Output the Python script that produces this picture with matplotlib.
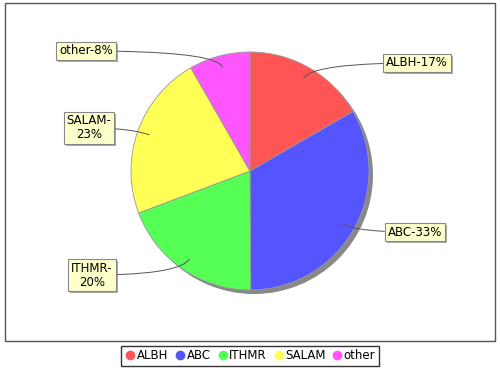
import numpy as np
import matplotlib
matplotlib.use("Agg")
import matplotlib.pyplot as plt
from matplotlib.patches import Circle, Rectangle
from matplotlib.lines import Line2D

names = ["ALBH", "ABC", "ITHMR", "SALAM", "other"]
shares = [16.7, 33.3, 19.4, 22.5, 8.3]
labels = ["ALBH-17%", "ABC-33%", "ITHMR-\n20%", "SALAM-\n23%", "other-8%"]
colors = ["#FF5555", "#5555FF", "#55FF55", "#FFFF55", "#FF55FF"]

# label box centres in pixel coords (x right, y up)
label_pos = [(417, 307), (415, 138), (92, 95), (89, 242), (86, 319)]

W, H = 500, 370
fig = plt.figure(figsize=(5, 3.7), dpi=100)
ax = fig.add_axes([0, 0, 1, 1])

# plot frame
ax.add_patch(Rectangle((5, 29), 490, 338, fill=False, edgecolor="#555555", lw=1))

cx, cy, r = 250, 199, 119
# shadow
ax.add_patch(Circle((cx + 4, cy - 4), r, facecolor="#888888", edgecolor="none", zorder=1))
wedges, _ = ax.pie(shares, colors=colors, startangle=90, counterclock=False,
                   center=(cx, cy), radius=r, frame=True,
                   wedgeprops=dict(edgecolor="#999999", linewidth=0.6, zorder=2))
ax.set_xlim(0, W)
ax.set_ylim(0, H)
ax.set_aspect("equal")
ax.axis("off")

anns = []
for w, lab, (lx, ly) in zip(wedges, labels, label_pos):
    mid = np.deg2rad((w.theta1 + w.theta2) / 2)
    px = cx + 0.9 * r * np.cos(mid)
    py = cy + 0.9 * r * np.sin(mid)
    angB = np.rad2deg(mid) % 360
    a = ax.annotate(lab, xy=(px, py), xytext=(lx, ly), ha="center", va="center",
                    fontsize=8.5, linespacing=1.1, zorder=4,
                    bbox=dict(boxstyle="square,pad=0.25", facecolor="#FFFFCC",
                              edgecolor="#888888", lw=0.8),
                    arrowprops=dict(arrowstyle="-", color="#555555", lw=0.7,
                                    connectionstyle="angle3,angleA=0,angleB=%d" % angB,
                                    shrinkA=0, shrinkB=0))
    anns.append(a)

# grey shadows behind the label boxes
fig.canvas.draw()
inv = ax.transData.inverted()
for a in anns:
    bb = a.get_bbox_patch().get_window_extent().transformed(inv)
    ax.add_patch(Rectangle((bb.x0 + 2, bb.y0 - 2), bb.width, bb.height,
                           facecolor="#AAAAAA", edgecolor="none", zorder=3))

handles = [Line2D([], [], marker="o", linestyle="none", markersize=6,
                  markerfacecolor=c, markeredgecolor=c) for c in colors]
leg = fig.legend(handles, names, loc="lower center", bbox_to_anchor=(0.5, 0.005),
                 ncol=5, fontsize=8.5, frameon=True, fancybox=False,
                 handletextpad=0.05, columnspacing=0.5, borderpad=0.3,
                 handlelength=1.0, borderaxespad=0.2)
leg.get_frame().set_edgecolor("black")
leg.get_frame().set_linewidth(1.0)

fig.savefig("out.png", dpi=100)
